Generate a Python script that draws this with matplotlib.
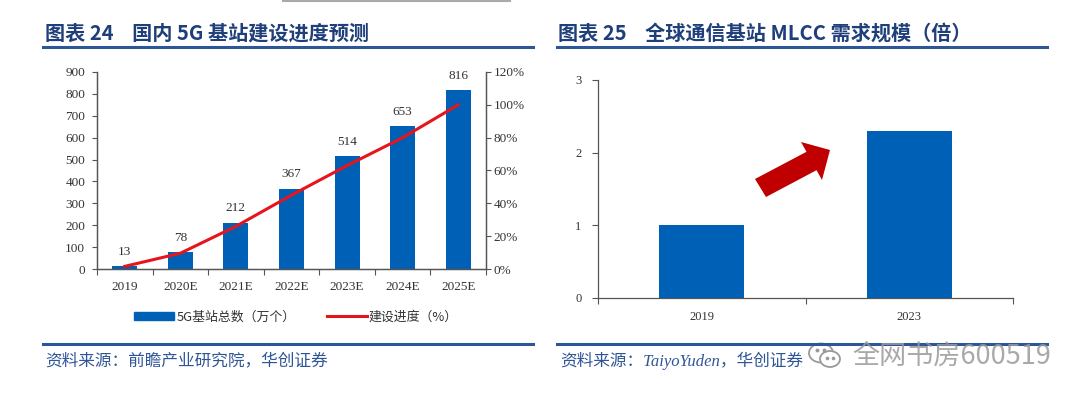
import matplotlib
matplotlib.use("Agg")
import matplotlib.pyplot as plt
from matplotlib.patches import Polygon, Patch, Ellipse
from matplotlib.lines import Line2D
from matplotlib.ticker import FixedLocator, PercentFormatter

plt.rcParams['font.family'] = ['Liberation Serif', 'Noto Sans CJK SC', 'DejaVu Sans']

# ---------------- data ----------------
years_left = ['2019', '2020E', '2021E', '2022E', '2023E', '2024E', '2025E']
stations = [13, 78, 212, 367, 514, 653, 816]          # 万个
progress = [1.6, 9.6, 26, 45, 63, 80, 100]             # %

years_right = ['2019', '2023']
mlcc_scale = [1.0, 2.3]                                 # 倍

BLUE = '#0060B6'
RED = '#E8141C'
TITLE_C = '#1F3F7A'
RULE_C = '#2E5597'
SRC_C = '#2F5597'
AX_C = '#555555'
TXT_C = '#333333'

W, H = 1080, 403
fig = plt.figure(figsize=(W / 100, H / 100), dpi=100)

def fx(px):
    return px / W

def fy(py):
    return 1 - py / H

# ---------------- titles & rules ----------------
fig.text(fx(45), fy(33), '图表 24    国内 5G 基站建设进度预测', fontsize=14.5, fontweight='bold',
         color=TITLE_C, va='center', ha='left', family=['Noto Sans CJK SC'])
fig.text(fx(558), fy(33), '图表 25    全球通信基站 MLCC 需求规模（倍）', fontsize=14.5, fontweight='bold',
         color=TITLE_C, va='center', ha='left', family=['Noto Sans CJK SC'])
for x0, x1, y in [(43, 533, 47), (557, 1047, 47), (43, 533, 344), (557, 1047, 344)]:
    fig.add_artist(Line2D([fx(x0), fx(x1)], [fy(y), fy(y)], color=RULE_C, lw=2.2))
fig.add_artist(Line2D([fx(283), fx(510)], [fy(1), fy(1)], color='#AAAAAA', lw=1.5))

fig.text(fx(45), fy(361), '资料来源：前瞻产业研究院，华创证券', fontsize=12, color=SRC_C,
         va='center', ha='left', family=['Noto Sans CJK SC'], style='italic')
fig.text(fx(560), fy(361), '资料来源：TaiyoYuden，华创证券', fontsize=12, color=SRC_C,
         va='center', ha='left', family=['Liberation Serif', 'Noto Sans CJK SC'], style='italic')

# ---------------- left chart ----------------
axL = fig.add_axes([fx(97), fy(269), fx(486 - 97), (269 - 72) / H])
xs = range(len(years_left))
axL.bar(xs, stations, width=0.45, color=BLUE, zorder=2)
axL.set_xlim(-0.5, len(years_left) - 0.5)
axL.set_ylim(0, 900)
axL.set_yticks(range(0, 901, 100))
axL.set_xticks(list(xs))
axL.set_xticklabels(years_left)
axL.xaxis.set_minor_locator(FixedLocator([i - 0.5 for i in range(len(years_left) + 1)]))
axL.tick_params(axis='x', which='major', length=0, pad=9, labelsize=9.5, labelcolor=TXT_C)
axL.tick_params(axis='x', which='minor', length=4, width=0.8, color=AX_C, direction='out')
axL.tick_params(axis='y', length=3.5, width=0.8, color=AX_C, pad=5, labelsize=9.5, labelcolor=TXT_C)
axL.spines['top'].set_visible(False)
for s in ['left', 'bottom', 'right']:
    axL.spines[s].set_color(AX_C)
    axL.spines[s].set_linewidth(0.9)
for x, v in zip(xs, stations):
    axL.annotate(str(v), (x, v), xytext=(0, 6), textcoords='offset points', ha='center',
                 va='bottom', fontsize=9.5, color=TXT_C)

axR = axL.twinx()
axR.plot(list(xs), progress, color=RED, lw=2.2, zorder=3)
axR.set_ylim(0, 120)
axR.set_yticks(range(0, 121, 20))
axR.yaxis.set_major_formatter(PercentFormatter(decimals=0))
axR.tick_params(axis='y', length=3.5, width=0.8, color=AX_C, pad=2, labelsize=9.5, labelcolor=TXT_C)
axR.spines['top'].set_visible(False)
for s in ['left', 'bottom', 'right']:
    axR.spines[s].set_color(AX_C)
    axR.spines[s].set_linewidth(0.9)

handles = [Patch(facecolor=BLUE, edgecolor=BLUE),
           Line2D([], [], color=RED, lw=2.2)]
leg = fig.legend(handles, ['5G基站总数（万个）', '建设进度（%）'], loc='center',
                 bbox_to_anchor=(fx(296), fy(317)), ncol=2, frameon=False,
                 prop={'family': ['Noto Sans CJK SC'], 'size': 9.3},
                 handlelength=3.1, handleheight=0.55, handletextpad=0.15, columnspacing=2.4)
for t in leg.get_texts():
    t.set_color(TXT_C)

# ---------------- right chart ----------------
ax2 = fig.add_axes([fx(598), fy(298), fx(1013 - 598), (298 - 80) / H])
xs2 = range(len(years_right))
ax2.bar(xs2, mlcc_scale, width=0.41, color=BLUE, zorder=2)
ax2.set_xlim(-0.5, len(years_right) - 0.5)
ax2.set_ylim(0, 3)
ax2.set_yticks([0, 1, 2, 3])
ax2.set_xticks(list(xs2))
ax2.set_xticklabels(years_right)
ax2.xaxis.set_minor_locator(FixedLocator([i - 0.5 for i in range(len(years_right) + 1)]))
ax2.tick_params(axis='x', which='major', length=0, pad=9, labelsize=9, labelcolor=TXT_C)
ax2.tick_params(axis='x', which='minor', length=4, width=0.8, color=AX_C, direction='out')
ax2.tick_params(axis='y', length=4, width=0.8, color=AX_C, pad=8, labelsize=9, labelcolor=TXT_C)
for s in ['top', 'right']:
    ax2.spines[s].set_visible(False)
for s in ['left', 'bottom']:
    ax2.spines[s].set_color(AX_C)
    ax2.spines[s].set_linewidth(0.9)

# red arrow decoration (axes-fraction coordinates)
arrow_px = [(755, 179), (806.5, 151.8), (801, 142), (830, 150), (822, 180), (816.5, 170.2), (766, 197)]
arrow_ax = [((px - 598) / (1013 - 598), (298 - py) / (298 - 80)) for px, py in arrow_px]
ax2.add_patch(Polygon(arrow_ax, closed=True, transform=ax2.transAxes, facecolor='#C00000',
                      edgecolor='none', zorder=4))

# watermark text and a simple chat-bubble icon
fig.text(fx(852), fy(356), '全网书房600519', fontsize=19.5, color='#9A9A9A', alpha=0.85,
         va='center', ha='left', family=['Noto Sans CJK SC'])
wm = fig.add_axes([fx(806), fy(370), fx(40), 30 / H])
wm.set_xlim(0, 40)
wm.set_ylim(0, 30)
wm.axis('off')
wm.add_patch(Ellipse((15, 17), 24, 19, facecolor='white', edgecolor='#9A9A9A', lw=1.3))
wm.add_patch(Ellipse((24, 11), 20, 16, facecolor='white', edgecolor='#9A9A9A', lw=1.3))
wm.plot([11, 18], [20, 20], 'o', color='#9A9A9A', ms=1.8)
wm.plot([21, 27], [12, 12], 'o', color='#9A9A9A', ms=1.6)

fig.savefig('out.png', dpi=100)
